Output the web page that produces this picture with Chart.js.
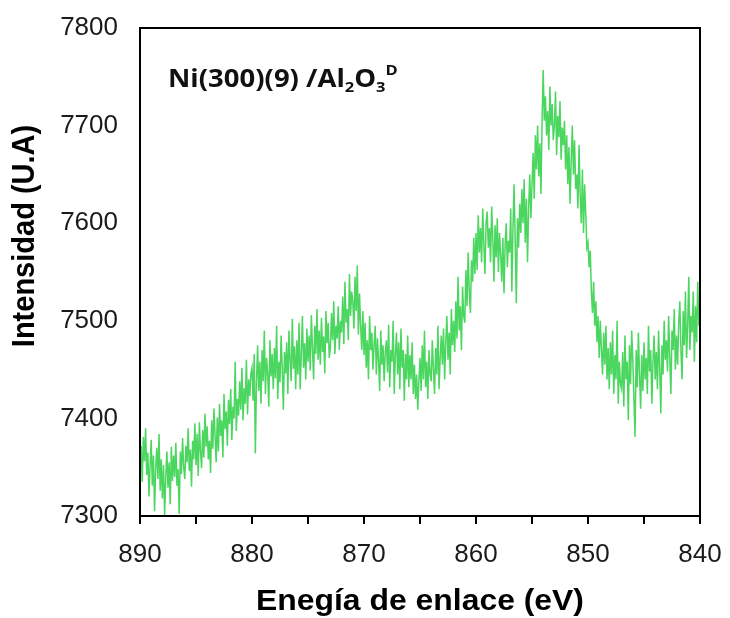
<!DOCTYPE html>
<html lang="es">
<head>
  <meta charset="UTF-8">
  <title>Ni(300)(9) /Al2O3 - XPS Ni 2p</title>
  <script src="https://cdn.jsdelivr.net/npm/chart.js@4"></script>
  <style>
    body { margin: 0; background: white; }
    #chart { display: block; }
  </style>
</head>
<body>
<canvas id="chart" width="730" height="618"></canvas>
<script>
// binding energy grid: 890 eV down to 840 eV in 0.1 eV steps
const energyStart = 890;
const energyStep = 0.1;

// counts, read in 10 eV blocks (high to low binding energy)
const scan890to880 = [
  7348, 7372, 7335, 7381, 7356, 7390, 7342, 7365, 7320, 7352,
  7378, 7331, 7362, 7305, 7349, 7370, 7338, 7384, 7326, 7358,
  7318, 7352, 7301, 7340, 7366, 7329, 7355, 7312, 7371, 7336,
  7362, 7340, 7375, 7331, 7348, 7302, 7366, 7343, 7380, 7350,
  7338, 7372, 7355, 7390, 7346, 7368, 7330, 7377, 7358, 7395,
  7352, 7384, 7341, 7396, 7366, 7349, 7388, 7360, 7405, 7371,
  7392, 7358, 7377, 7344, 7398, 7369, 7410, 7383, 7355, 7401,
  7366, 7415, 7382, 7398, 7360, 7425, 7389, 7407, 7372, 7419,
  7394, 7430, 7378, 7412, 7400, 7458, 7387, 7420, 7403, 7438,
  7409, 7452, 7398, 7431, 7415, 7460, 7404, 7440, 7423, 7446
];
const scan880to870 = [
  7452, 7418, 7466, 7364, 7437, 7475, 7428, 7458, 7415, 7470,
  7438, 7490, 7425, 7462, 7447, 7412, 7480, 7443, 7466, 7430,
  7472, 7441, 7495, 7420, 7458, 7437, 7485, 7452, 7409, 7468,
  7446, 7478, 7425, 7490, 7460, 7438, 7502, 7451, 7474, 7430,
  7480, 7445, 7498, 7430, 7466, 7505, 7452, 7477, 7440, 7492,
  7458, 7485, 7449, 7506, 7472, 7440, 7495, 7466, 7512, 7460,
  7490, 7455, 7503, 7468, 7484, 7446, 7510, 7477, 7498, 7462,
  7473, 7508, 7480, 7520, 7466, 7495, 7482, 7515, 7470, 7500,
  7488, 7525, 7476, 7540, 7498, 7512, 7480, 7548, 7505, 7530,
  7520, 7492, 7545, 7510, 7557, 7486, 7528, 7495, 7470, 7510
];
const scan870to860 = [
  7465, 7498, 7452, 7480, 7440, 7505, 7470, 7488, 7450, 7476,
  7495, 7445, 7482, 7460, 7428, 7490, 7455, 7475, 7438, 7468,
  7480, 7447, 7496, 7432, 7470, 7458, 7500, 7425, 7465, 7488,
  7445, 7478, 7430, 7492, 7452, 7470, 7418, 7466, 7440, 7485,
  7432, 7465, 7440, 7478, 7425, 7455, 7420, 7445, 7409, 7438,
  7462, 7428, 7475, 7440, 7490, 7432, 7458, 7420, 7470, 7445,
  7438, 7480, 7450, 7425, 7472, 7445, 7495, 7430, 7462, 7485,
  7455, 7492, 7440, 7478, 7505, 7460, 7488, 7445, 7512, 7475,
  7500, 7468, 7520, 7482, 7545, 7490, 7515, 7470, 7535, 7505,
  7498, 7552, 7515, 7570, 7530, 7508, 7562, 7540, 7585, 7548
];
const scan860to850 = [
  7590, 7552, 7608, 7570, 7595, 7560, 7615, 7578, 7548, 7600,
  7612, 7575, 7595, 7560, 7617, 7585, 7540, 7598, 7565, 7605,
  7550, 7590, 7568, 7540, 7585, 7528, 7578, 7600, 7555, 7582,
  7570, 7615, 7530, 7595, 7640, 7580, 7518, 7605, 7575, 7620,
  7590, 7635, 7600, 7645, 7580, 7625, 7560, 7615, 7650, 7605,
  7640, 7672, 7625, 7690, 7655, 7700, 7648, 7682, 7630, 7705,
  7757, 7705, 7730, 7690, 7715, 7675, 7740, 7700, 7722, 7685,
  7700, 7735, 7670, 7710, 7688, 7725, 7665, 7698, 7680, 7705,
  7655, 7690, 7640, 7678, 7620, 7665, 7700, 7650, 7685, 7635,
  7650, 7615, 7680, 7630, 7600, 7655, 7590, 7640, 7610, 7575
];
const scan850to840 = [
  7580, 7555, 7572, 7530, 7508, 7540, 7495, 7520, 7478, 7505,
  7462, 7500, 7470, 7445, 7488, 7455, 7495, 7440, 7472, 7430,
  7478, 7445, 7490, 7425, 7465, 7440, 7500, 7415, 7458, 7435,
  7430, 7468, 7412, 7485, 7440, 7458, 7398, 7475, 7435, 7490,
  7460, 7420, 7381, 7470, 7432, 7488, 7445, 7410, 7465, 7428,
  7478, 7440, 7462, 7425, 7495, 7448, 7470, 7415, 7458, 7485,
  7440, 7468, 7430, 7490, 7452, 7405, 7475, 7445, 7500, 7460,
  7480, 7448, 7505, 7462, 7425, 7490, 7470, 7512, 7450, 7485,
  7455, 7498, 7520, 7468, 7440, 7510, 7475, 7530, 7462, 7495,
  7545, 7470, 7505, 7488, 7530, 7458, 7515, 7478, 7540, 7495,
  7515
];

const intensity = [].concat(scan890to880, scan880to870, scan870to860, scan860to850, scan850to840);
const energy = intensity.map((_, i) => +(energyStart - i * energyStep).toFixed(1));

const xTicks = [890, 880, 870, 860, 850, 840];
const yTicks = [7300, 7400, 7500, 7600, 7700, 7800];

const lineColor = '#4bd65f';
const tickFont = { family: 'Liberation Sans, Arial, sans-serif', size: 26 };
const titleFont = 'bold 29px "Liberation Sans", Arial, sans-serif';

// black frame around the plotting area
const frame = {
  id: 'frame',
  afterDraw(chart) {
    const { ctx, chartArea: a } = chart;
    ctx.save();
    ctx.strokeStyle = '#000';
    ctx.lineWidth = 2;
    ctx.strokeRect(a.left, a.top, a.right - a.left, a.bottom - a.top);
    ctx.restore();
  }
};

// axis titles (slightly widened, as in the original figure)
const axisTitles = {
  id: 'axisTitles',
  afterDraw(chart) {
    const { ctx, chartArea: a } = chart;
    ctx.save();
    ctx.fillStyle = '#000';
    ctx.font = titleFont;
    ctx.textAlign = 'center';
    ctx.textBaseline = 'middle';
    ctx.save();
    ctx.translate((a.left + a.right) / 2, 602);
    ctx.scale(1.1, 1);
    ctx.fillText('Enegía de enlace (eV)', 0, 0);
    ctx.restore();
    ctx.save();
    ctx.translate(25, 236);
    ctx.rotate(-Math.PI / 2);
    ctx.scale(1, 1.1);
    ctx.fillText('Intensidad (U.A)', 0, 0);
    ctx.restore();
    ctx.restore();
  }
};

// sample label with sub/superscripts
const sampleLabel = {
  id: 'sampleLabel',
  afterDraw(chart) {
    const { ctx, chartArea: a } = chart;
    const big = 'bold 25px "Open Sans", Lato, sans-serif';
    const small = 'bold 15px "Open Sans", Lato, sans-serif';
    const parts = [
      ['Ni(300)(9) /Al', big, 0],
      ['2', small, 5],
      ['O', big, 0],
      ['3', small, 5],
      ['D', small, -12]
    ];
    let x = 0;
    ctx.save();
    ctx.translate(a.left + 28, 87);
    ctx.scale(1.1, 1);
    ctx.fillStyle = '#111';
    ctx.textBaseline = 'alphabetic';
    for (const [t, f, dy] of parts) {
      ctx.font = f;
      ctx.fillText(t, x, dy);
      x += ctx.measureText(t).width;
    }
    ctx.restore();
  }
};

new Chart(document.getElementById('chart'), {
  type: 'line',
  data: {
    datasets: [{
      data: energy.map((e, i) => ({ x: e, y: intensity[i] })),
      borderColor: lineColor,
      borderWidth: 1.5,
      pointRadius: 0,
      tension: 0,
      fill: false
    }]
  },
  options: {
    responsive: false,
    animation: false,
    layout: { padding: { top: 28, right: 30, left: 0, bottom: 0 } },
    plugins: { legend: { display: false }, tooltip: { enabled: false } },
    scales: {
      x: {
        type: 'linear',
        reverse: true,
        min: 840,
        max: 890,
        border: { display: false },
        grid: { drawOnChartArea: false, drawTicks: true, tickLength: 8, color: '#000', lineWidth: 2 },
        ticks: {
          stepSize: 5,
          autoSkip: false,
          maxRotation: 0,
          padding: 15,
          color: '#1a1a1a',
          font: tickFont,
          callback: v => xTicks.includes(v) ? String(v) : ''
        },
        afterFit(s) { s.height = 102; s.paddingLeft = 0; s.paddingRight = 0; }
      },
      y: {
        min: 7300,
        max: 7800,
        border: { display: false },
        grid: { display: false, drawTicks: false },
        ticks: {
          stepSize: 100,
          padding: 22,
          color: '#1a1a1a',
          font: tickFont,
          callback: v => yTicks.includes(v) ? String(v) : ''
        },
        afterFit(s) { s.width = 140; s.paddingTop = 0; s.paddingBottom = 0; }
      }
    }
  },
  plugins: [frame, axisTitles, sampleLabel]
});
</script>
</body>
</html>
